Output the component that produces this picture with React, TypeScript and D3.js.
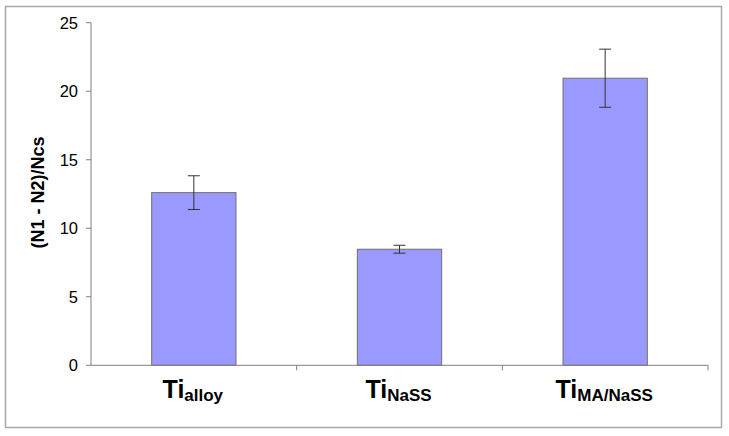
import React from 'react';
import * as d3 from 'd3';

// chart data
const categories = ['alloy', 'NaSS', 'MA/NaSS'];
const values = [12.6, 8.47, 20.95];
const errors = [1.23, 0.29, 2.12];
const yTicks = [0, 5, 10, 15, 20, 25];

const W = 729;
const H = 436;
const margin = { left: 91, right: 21, top: 22.7, bottom: 70.7 };
const font = 'Arial, "Liberation Sans", sans-serif';

const App = () => {
    const x = d3.scaleBand<string>()
        .domain(categories)
        .range([margin.left, W - margin.right]);
    const y = d3.scaleLinear()
        .domain([0, 25])
        .range([H - margin.bottom, margin.top]);

    const barW = x.bandwidth() * 0.41;
    const y0 = y(0);

    return (
        <div style={{ position: 'absolute', left: 0, top: 0 }}>
            <svg width={W} height={H} style={{ display: 'block', background: '#fff' }}>
                {/* outer frame */}
                <rect x={5.5} y={6.5} width={716} height={421} fill="none" stroke="#a8a8a8" strokeWidth={1.5} />

                {/* bars */}
                {categories.map((c, i) => {
                    const cx = x(c)! + x.bandwidth() / 2;
                    return (
                        <g key={c}>
                            <rect
                                x={cx - barW / 2}
                                y={y(values[i])}
                                width={barW}
                                height={y0 - y(values[i])}
                                fill="#9999ff"
                                stroke="#707070"
                                strokeWidth={1}
                            />
                            <line x1={cx} x2={cx} y1={y(values[i] + errors[i])} y2={y(values[i] - errors[i])} stroke="#333" strokeWidth={1} />
                            <line x1={cx - 6} x2={cx + 6} y1={y(values[i] + errors[i])} y2={y(values[i] + errors[i])} stroke="#333" strokeWidth={1} />
                            <line x1={cx - 6} x2={cx + 6} y1={y(values[i] - errors[i])} y2={y(values[i] - errors[i])} stroke="#333" strokeWidth={1} />
                        </g>
                    );
                })}

                {/* y axis */}
                <line x1={margin.left} x2={margin.left} y1={y(25)} y2={y0} stroke="#808080" />
                {yTicks.map(t => (
                    <g key={t}>
                        <line x1={margin.left - 5} x2={margin.left} y1={y(t)} y2={y(t)} stroke="#808080" />
                        <text x={78} y={y(t)} dy="0.36em" textAnchor="end" fontFamily={font} fontSize={16.5} fill="#000">{t}</text>
                    </g>
                ))}

                {/* x axis */}
                <line x1={margin.left} x2={W - margin.right} y1={y0} y2={y0} stroke="#808080" />
                {categories.map(c => (
                    <line key={c} x1={x(c)! + x.bandwidth()} x2={x(c)! + x.bandwidth()} y1={y0} y2={y0 + 5} stroke="#808080" />
                ))}
                {categories.map(c => (
                    <text key={c} x={x(c)! + x.bandwidth() / 2 - 1} y={398} textAnchor="middle" fontFamily={font} fontWeight="bold" fill="#000">
                        <tspan fontSize={25}>Ti</tspan>
                        <tspan fontSize={17} dy={3}>{c}</tspan>
                    </text>
                ))}

                {/* y label */}
                <text transform={`translate(44, ${192.5}) rotate(-90)`} textAnchor="middle" fontFamily={font} fontWeight="bold" fontSize={18} fill="#000">
                    (N1 - N2)/Ncs
                </text>
            </svg>
        </div>
    );
};

export default App;
